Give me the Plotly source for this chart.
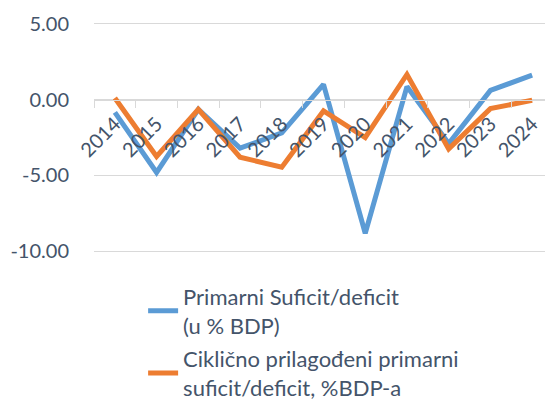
import plotly.graph_objects as go

years = ["2014", "2015", "2016", "2017", "2018", "2019", "2020", "2021", "2022", "2023", "2024"]
primarni = [-0.85, -4.8, -0.65, -3.2, -2.2, 1.0, -8.8, 0.85, -2.9, 0.6, 1.6]
ciklicno = [0.1, -3.75, -0.65, -3.8, -4.45, -0.75, -2.5, 1.65, -3.25, -0.6, -0.05]
y_ticks = [-10, -5, 0, 5]
y_tick_labels = ["-10.00", "-5.00", "0.00", "5.00"]
names = ["Primarni Suficit/deficit<br>(u % BDP)", "Ciklično prilagođeni primarni<br>suficit/deficit, %BDP-a"]

FONT = "Lato"
TXT = "#44546A"
GRID = "#D9D9D9"
Y_RANGE = [-10.1, 5.1]

fig = go.Figure()
fig.add_trace(go.Scatter(x=years, y=primarni, mode="lines", name=names[0], legendgroup="a",
                         line=dict(color="#5B9BD5", width=5)))
fig.add_trace(go.Scatter(x=years, y=ciklicno, mode="lines", name=names[1], legendgroup="b",
                         line=dict(color="#ED7D31", width=5)))

# page body has an 8px default margin, so the figure is 545x393
fig.update_layout(
    width=545, height=393,
    margin=dict(l=86, r=0, t=14, b=148, autoexpand=False),
    paper_bgcolor="white", plot_bgcolor="white",
    font=dict(family=FONT, color=TXT, size=20),
    showlegend=True,
    legend=dict(xref="paper", yref="paper", x=0.107, y=-0.098,
                xanchor="left", yanchor="top",
                font=dict(family=FONT, size=22, color=TXT),
                tracegroupgap=2, bgcolor="rgba(0,0,0,0)"),
    xaxis=dict(type="category", range=[-0.5, 10.5], anchor="free",
               position=(0 - Y_RANGE[0]) / (Y_RANGE[1] - Y_RANGE[0]),
               showgrid=False, showline=True, linecolor=GRID, linewidth=1,
               ticks="outside", tickson="boundaries", ticklen=7, tickcolor=GRID,
               tickangle=-45, ticklabelstandoff=4,
               tickfont=dict(family=FONT, size=20, color=TXT),
               zeroline=False, automargin=False),
    yaxis=dict(range=Y_RANGE, tickvals=y_ticks, ticktext=y_tick_labels,
               showgrid=True, gridcolor=GRID, gridwidth=1, zeroline=False,
               showline=False, ticks="", automargin=False, ticklabelstandoff=24,
               tickfont=dict(family=FONT, size=20, color=TXT)),
)

fig.write_html("out.html")
